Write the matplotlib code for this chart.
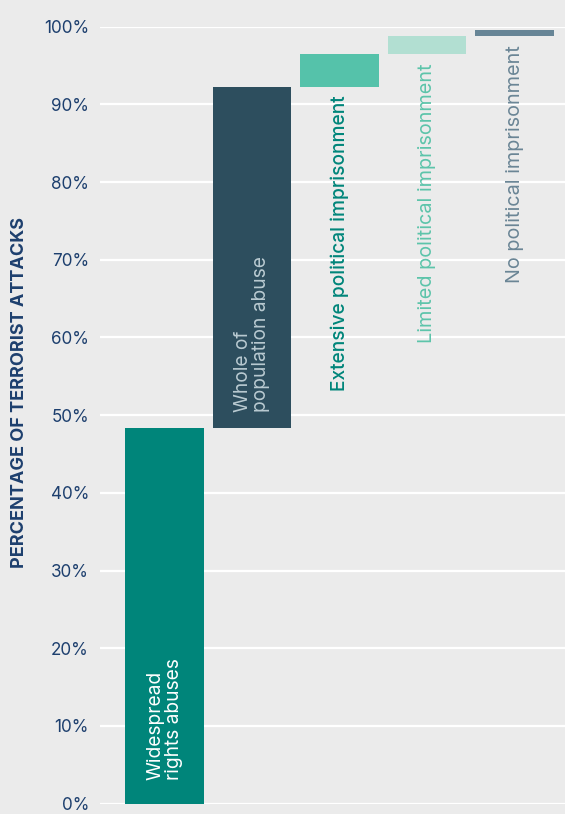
import matplotlib
matplotlib.use("Agg")
import matplotlib.pyplot as plt
import numpy as np

# ---- data ----
categories = ["Widespread\nrights abuses", "Whole of\npopulation abuse",
              "Extensive political imprisonment", "Limited political imprisonment",
              "No political imprisonment"]
shares = [48.3, 44.0, 4.2, 2.3, 0.8]          # % of terrorist attacks
y_ticks = [0, 10, 20, 30, 40, 50, 60, 70, 80, 90, 100]
y_tick_labels = [f"{v}%" for v in y_ticks]
y_title = "PERCENTAGE OF TERRORIST ATTACKS"

bar_colors = ["#00857a", "#2d4e5e", "#55c2aa", "#b2dfd2", "#678596"]
label_colors = ["#ffffff", "#b9cad1", "#00857a", "#5cc4aa", "#6a8595"]
label_inside = [True, True, False, False, False]
label_weight = ["normal", "normal", "medium", "normal", "normal"]
label_sizes = [13.8, 13.8, 13.8, 14.3, 14.3]
inside_offsets = [17, 11.5, 0, 0, 0]

plt.rcParams['font.family'] = ['Inter', 'DejaVu Sans']

bg = "#ebebeb"
navy = "#1d3f6e"

fig = plt.figure(figsize=(5.65, 8.14), dpi=100, facecolor=bg)
ax = fig.add_axes([100/565, 10.3/814, 465/565, 777/814], facecolor=bg)

x = np.arange(len(categories))
bottoms = np.concatenate([[0], np.cumsum(shares)[:-1]])

ax.bar(x, shares, bottom=bottoms, width=0.9, color=bar_colors, zorder=3)

for i, cat in enumerate(categories):
    if label_inside[i]:
        ax.annotate(cat, xy=(x[i], bottoms[i]), xytext=(0, inside_offsets[i]),
                    textcoords="offset points", rotation=90, ha="center",
                    va="bottom", multialignment="left", color=label_colors[i],
                    fontsize=label_sizes[i], fontweight=label_weight[i], zorder=4,
                    linespacing=1.05)
    else:
        ax.annotate(cat, xy=(x[i], bottoms[i]), xytext=(0, -6.5),
                    textcoords="offset points", rotation=90, ha="center",
                    va="top", color=label_colors[i], fontsize=label_sizes[i],
                    fontweight=label_weight[i], zorder=4)

ax.set_ylim(0, 100)
ax.set_xlim(-0.737, 4.577)
ax.set_yticks(y_ticks)
ax.set_yticklabels(y_tick_labels)
ax.set_xticks([])
ax.tick_params(axis="y", length=0, pad=8, labelsize=12.3, labelcolor=navy)
ax.grid(axis="y", color="white", linewidth=1.6, zorder=0)
ax.set_axisbelow(True)
for s in ax.spines.values():
    s.set_visible(False)

fig.text(20/565, 1 - 393/814, y_title, rotation=90, ha="center", va="center",
         color=navy, fontsize=13, fontweight="bold")

fig.savefig("out.png", dpi=100, facecolor=bg)
